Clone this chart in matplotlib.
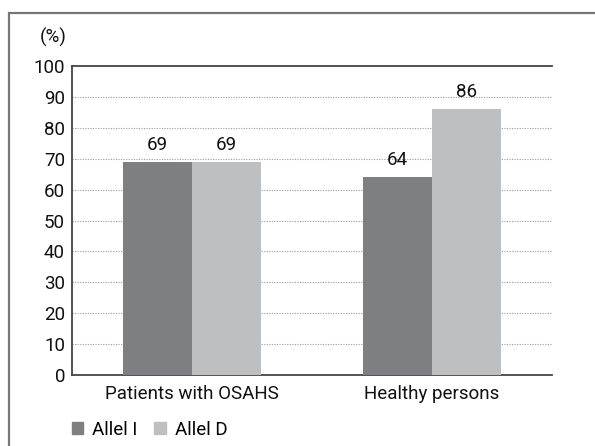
import matplotlib

matplotlib.use("Agg")
import matplotlib.pyplot as plt
from matplotlib.patches import Patch, Rectangle

groups = ["Patients with OSAHS", "Healthy persons"]
allel_i = [69, 64]
allel_d = [69, 86]
series_labels = ["Allel I", "Allel D"]
y_ticks = [0, 10, 20, 30, 40, 50, 60, 70, 80, 90, 100]

DARK = "#7e7f83"
LIGHT = "#bebfc1"
SPINE = "#444444"
FS = 13.5

plt.rcParams["font.family"] = ["Roboto", "Liberation Sans", "DejaVu Sans"]

fig = plt.figure(figsize=(5.95, 4.46), dpi=100)
ax = fig.add_axes([72 / 595, 1 - 375 / 446, 480 / 595, 309 / 446])

# outer frame, open to the right and bottom
fig.patches.append(
    Rectangle((9 / 595, -0.1), 1.2, 1.1 - 13 / 446, transform=fig.transFigure,
              fill=False, edgecolor="#777777", linewidth=1.6)
)

width = 0.287
x = range(len(groups))
bars_i = ax.bar([i - width / 2 for i in x], allel_i, width, color=DARK, zorder=3)
bars_d = ax.bar([i + width / 2 for i in x], allel_d, width, color=LIGHT, zorder=3)

for bars, vals in ((bars_i, allel_i), (bars_d, allel_d)):
    for b, v in zip(bars, vals):
        ax.text(b.get_x() + b.get_width() / 2, v + 2.6, f"{v}", ha="center",
                va="bottom", fontsize=FS, color="#111111", zorder=4)

ax.set_xlim(-0.5, 1.5)
ax.set_ylim(0, 100)
ax.set_yticks(y_ticks)
ax.set_xticks(list(x))
ax.set_xticklabels(groups)
ax.tick_params(axis="both", length=0, labelsize=FS, colors="#111111")
ax.tick_params(axis="y", pad=5)
ax.tick_params(axis="x", pad=7)

for yv in y_ticks[1:-1]:
    ax.axhline(yv, color="#999999", linestyle=(0, (1, 1.3)), linewidth=0.8, zorder=1)

ax.spines["right"].set_visible(False)
for side in ("left", "top", "bottom"):
    ax.spines[side].set_color(SPINE)
    ax.spines[side].set_linewidth(1.3)

fig.text(67 / 595, 1 - 37 / 446, "(%)", ha="right", va="center", fontsize=FS,
         color="#111111")

handles = [Patch(color=DARK), Patch(color=LIGHT)]
fig.legend(handles, series_labels, loc="center left",
           bbox_to_anchor=(64 / 595, 1 - 430 / 446), ncol=2, frameon=False,
           fontsize=FS, handlelength=0.6, handleheight=0.6, handletextpad=0.5,
           columnspacing=0.9, borderaxespad=0)

fig.savefig("out.png", dpi=100)
